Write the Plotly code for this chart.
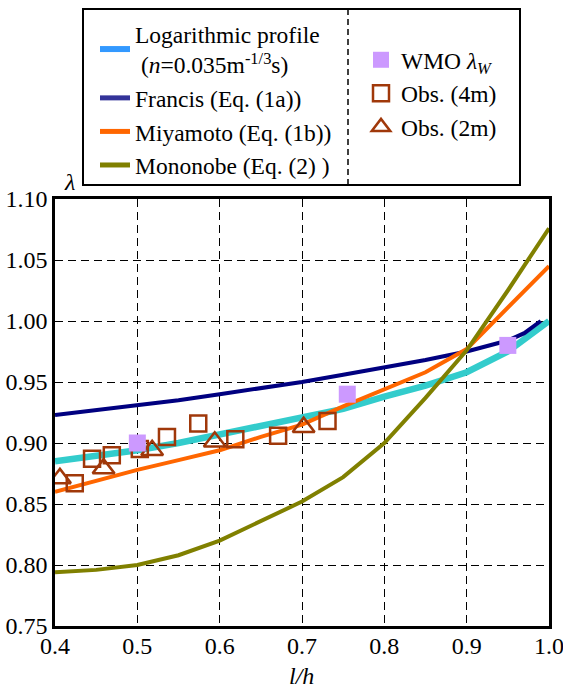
import plotly.graph_objects as go

# Relative depth l/h for the analytic curves
x_curve = [0.40, 0.45, 0.50, 0.55, 0.60, 0.65, 0.70, 0.75, 0.80, 0.85, 0.90, 0.95, 1.00]
log_profile = [0.885, 0.889, 0.894, 0.900, 0.907, 0.913, 0.920, 0.928, 0.938, 0.947, 0.958, 0.975, 1.000]
miyamoto = [0.860, 0.869, 0.878, 0.886, 0.894, 0.905, 0.915, 0.930, 0.944, 0.958, 0.977, 1.011, 1.045]
mononobe = [0.794, 0.796, 0.800, 0.808, 0.820, 0.836, 0.852, 0.872, 0.900, 0.937, 0.976, 1.025, 1.076]

x_francis = [0.40, 0.45, 0.50, 0.55, 0.60, 0.65, 0.70, 0.75, 0.80, 0.85, 0.90, 0.95, 0.97, 0.99]
francis = [0.923, 0.927, 0.931, 0.935, 0.940, 0.945, 0.950, 0.956, 0.962, 0.968, 0.975, 0.984, 0.990, 1.000]

# Observations
obs4m_x = [0.424, 0.445, 0.469, 0.503, 0.536, 0.574, 0.619, 0.671, 0.731]
obs4m_y = [0.867, 0.887, 0.890, 0.895, 0.905, 0.916, 0.903, 0.906, 0.918]
obs2m_x = [0.406, 0.459, 0.518, 0.594, 0.702]
obs2m_y = [0.871, 0.879, 0.894, 0.901, 0.913]
wmo_x = [0.500, 0.755, 0.950]
wmo_y = [0.900, 0.940, 0.980]

x_ticks = [0.4, 0.5, 0.6, 0.7, 0.8, 0.9, 1.0]
y_ticks = [0.75, 0.80, 0.85, 0.90, 0.95, 1.00, 1.05, 1.10]

FONT = "Liberation Serif, Times New Roman, Times, serif"
W, H = 563, 688
ML, MR, MT, MB = 55, 14, 199, 62
PW, PH = W - ML - MR, H - MT - MB
BROWN = "#A0380A"


def px_x(p):
    return (p - ML) / PW


def px_y(p):
    return (H - MB - p) / PH


fig = go.Figure()

# Curves (legend entries are drawn by the legend-only traces below)
fig.add_trace(go.Scatter(x=x_curve, y=log_profile, mode="lines", showlegend=False,
                         line=dict(color="#33CCCC", width=6.5)))
fig.add_trace(go.Scatter(x=x_francis, y=francis, mode="lines", showlegend=False,
                         line=dict(color="#000080", width=4)))
fig.add_trace(go.Scatter(x=x_curve, y=miyamoto, mode="lines", showlegend=False,
                         line=dict(color="#FF6600", width=4)))
fig.add_trace(go.Scatter(x=x_curve, y=mononobe, mode="lines", showlegend=False,
                         line=dict(color="#808000", width=4)))

fig.add_trace(go.Scatter(x=obs4m_x, y=obs4m_y, mode="markers", showlegend=False,
                         marker=dict(symbol="square-open", size=16, color=BROWN,
                                     line=dict(width=2.5, color=BROWN))))
fig.add_trace(go.Scatter(x=obs2m_x, y=obs2m_y, mode="markers", showlegend=False,
                         marker=dict(symbol="triangle-up-open", size=19, color=BROWN,
                                     line=dict(width=2.5, color=BROWN))))
fig.add_trace(go.Scatter(x=wmo_x, y=wmo_y, mode="markers", showlegend=False,
                         marker=dict(symbol="square", size=17, color="#CC99FF",
                                     line=dict(width=0))))

# Legend, left column
legend_lines = [
    ("Logarithmic profile<br> (<i>n</i>=0.035m<sup>-1/3</sup>s)", "#3399FF", 6),
    ("Francis (Eq. (1a))", "#333399", 5),
    ("Miyamoto (Eq. (1b))", "#FF6600", 5),
    ("Mononobe (Eq. (2) )", "#808000", 5),
]
for name, col, lw in legend_lines:
    fig.add_trace(go.Scatter(x=[None], y=[None], mode="lines", name=name,
                             line=dict(color=col, width=lw), legend="legend"))

# Legend, right column
legend_marks = [
    ("WMO <i>λ<sub>W</sub></i>", dict(symbol="square", size=16, color="#CC99FF", line=dict(width=0))),
    ("Obs. (4m)", dict(symbol="square-open", size=16, color=BROWN, line=dict(width=2.5, color=BROWN))),
    ("Obs. (2m)", dict(symbol="triangle-up-open", size=16, color=BROWN, line=dict(width=2.5, color=BROWN))),
]
for name, mk in legend_marks:
    fig.add_trace(go.Scatter(x=[None], y=[None], mode="markers", name=name,
                             marker=mk, legend="legend2"))

axis_common = dict(
    showgrid=True, gridcolor="black", gridwidth=1.2, griddash="8px,5px",
    showline=True, linecolor="black", linewidth=2.6, mirror=True,
    ticks="", zeroline=False, automargin=False, ticklabeloverflow="allow",
    tickfont=dict(family=FONT, size=24, color="black"),
)

LEG_FONT = dict(family=FONT, size=23.5, color="black")

fig.update_layout(
    width=W, height=H,
    margin=dict(l=ML, r=MR, t=MT, b=MB, pad=0, autoexpand=False),
    paper_bgcolor="white", plot_bgcolor="white",
    font=dict(family=FONT, size=23, color="black"),
    xaxis=dict(range=[0.4, 1.0], tickvals=x_ticks, tickformat=".1f",
               ticklabelstandoff=-4, **axis_common),
    yaxis=dict(range=[0.75, 1.10], tickvals=y_ticks, tickformat=".2f", **axis_common),
    legend=dict(xref="container", yref="container", x=95 / W, y=1 - 12 / H,
                xanchor="left", yanchor="top", bgcolor="rgba(0,0,0,0)",
                borderwidth=0, font=LEG_FONT,
                itemsizing="trace", tracegroupgap=0),
    legend2=dict(xref="container", yref="container", x=361 / W, y=1 - 38 / H,
                 xanchor="left", yanchor="top", bgcolor="rgba(0,0,0,0)",
                 borderwidth=0, font=LEG_FONT,
                 itemsizing="trace", tracegroupgap=0),
    shapes=[
        dict(type="rect", xref="paper", yref="paper",
             x0=px_x(83), x1=px_x(520), y0=px_y(185), y1=px_y(9),
             line=dict(color="black", width=2), fillcolor="rgba(0,0,0,0)"),
        dict(type="line", xref="paper", yref="paper",
             x0=px_x(348), x1=px_x(348), y0=px_y(185), y1=px_y(9),
             line=dict(color="black", width=1.5, dash="6px,4px")),
    ],
    annotations=[
        dict(text="<i>λ</i>", xref="paper", yref="paper", x=px_x(69), y=px_y(182),
             xanchor="center", yanchor="middle", showarrow=False,
             font=dict(family=FONT, size=24, color="black")),
        dict(text="<i>l/h</i>", xref="paper", yref="paper", x=px_x(301), y=px_y(676),
             xanchor="center", yanchor="middle", showarrow=False,
             font=dict(family=FONT, size=24, color="black")),
    ],
)

fig.write_html("out.html")
